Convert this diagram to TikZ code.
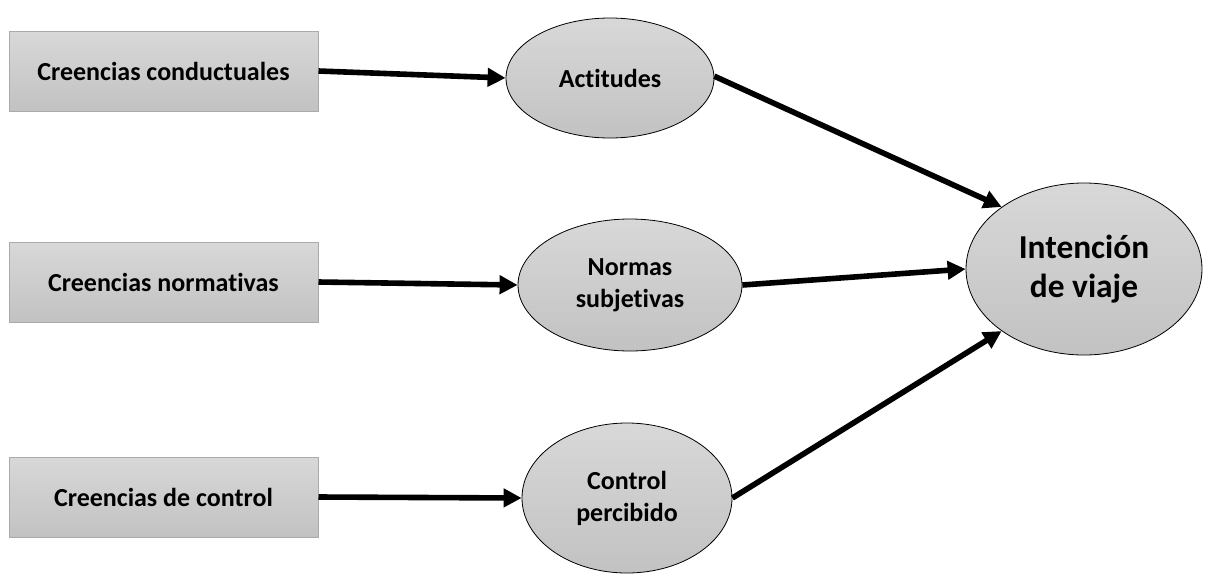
\documentclass[tikz,border=0pt]{standalone}
\usepackage{fontspec}
\setmainfont{Carlito}[Ligatures=NoCommon]
\usetikzlibrary{arrows.meta,shapes.geometric}
\definecolor{fillTop}{RGB}{216,216,216}
\definecolor{fillBot}{RGB}{194,194,194}
\definecolor{boxLine}{RGB}{170,170,170}
\tikzset{
  belief/.style={rectangle, draw=boxLine, line width=0.5pt,
    top color=fillTop, bottom color=fillBot,
    minimum width=154.5pt, minimum height=40pt, inner sep=0pt,
    font=\bfseries\fontsize{13}{16}\selectfont},
  construct/.style={ellipse, draw=black, line width=0.4pt,
    top color=fillTop, bottom color=fillBot, inner sep=0pt,
    align=center, font=\bfseries\fontsize{13}{16}\selectfont},
  link/.style={line width=2.8pt, -{Triangle[length=9pt,width=9pt]}}
}
\begin{document}
\begin{tikzpicture}[x=0.5pt, y=-0.5pt]
  \useasboundingbox (0,0) rectangle (1217,574);

  % belief boxes
  \node[belief] (bc) at (163.5,71)  {Creencias conductuales};
  \node[belief] (bn) at (163.5,282) {Creencias normativas};
  \node[belief] (bk) at (163.5,497) {Creencias de control};

  % constructs
  \node[construct, minimum width=104pt, minimum height=60pt] (at) at (610,78) {Actitudes};
  \node[construct, minimum width=112pt, minimum height=66pt] (ns) at (630,285) {Normas\\subjetivas};
  \node[construct, minimum width=105pt, minimum height=75pt] (cp) at (627,498) {Control\\percibido};

  % outcome
  \node[construct, minimum width=118pt, minimum height=86pt,
        font=\bfseries\fontsize{16.7}{19.5}\selectfont] (iv) at (1084,269) {Intención\\de viaje};

  % links
  \draw[link] (bc.east) -- (at.west);
  \draw[link] (bn.east) -- (ns.west);
  \draw[link] (bk.east) -- (cp.west);
  \draw[link] (at.1) -- (iv.143);
  \draw[link] (ns.east) -- (iv.west);
  \draw[link] (cp.east) -- (iv.217);
\end{tikzpicture}
\end{document}
